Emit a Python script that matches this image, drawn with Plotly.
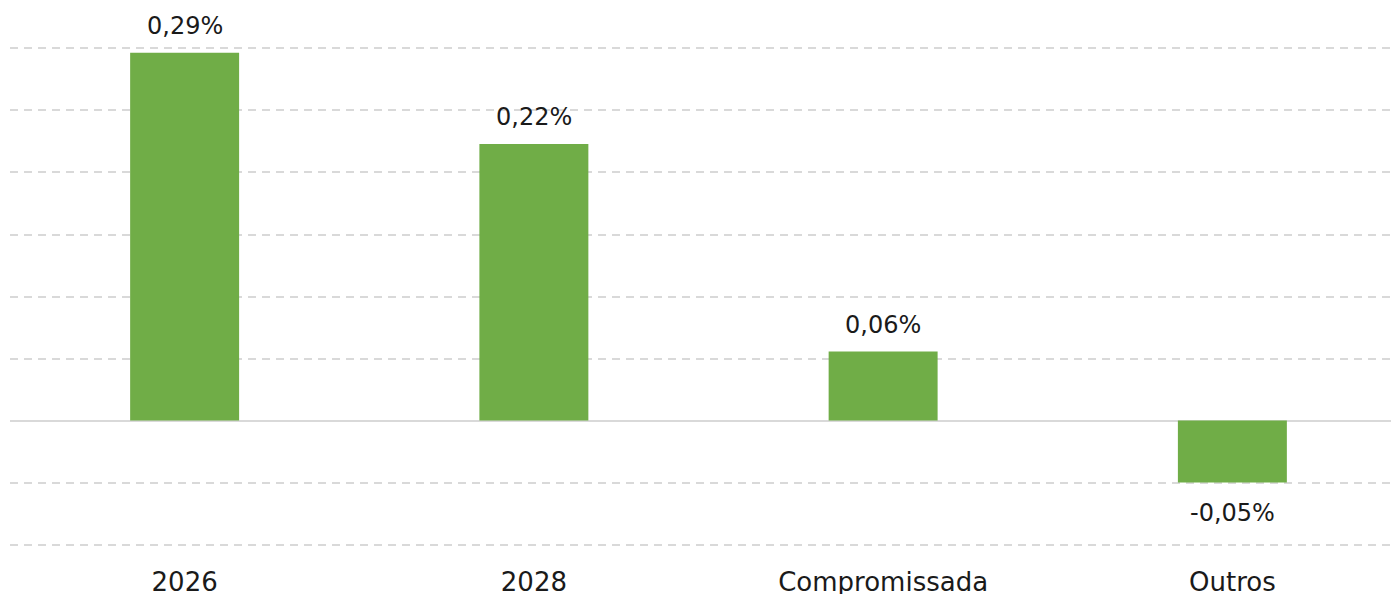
import plotly.graph_objects as go

categories = ["2026", "2028", "Compromissada", "Outros"]
values = [0.2966, 0.2230, 0.0556, -0.0500]
value_labels = ["0,29%", "0,22%", "0,06%", "-0,05%"]

bar_color = "#70AD47"
font_family = "DejaVu Sans"

fig = go.Figure()
fig.add_trace(go.Bar(
    x=categories, y=values, marker_color=bar_color, width=0.312,
    marker_line_width=0,
))

for i, (v, t) in enumerate(zip(values, value_labels)):
    fig.add_annotation(
        x=i, y=v, text=t, showarrow=False,
        yanchor="bottom" if v >= 0 else "top",
        yshift=11 if v >= 0 else -14,
        font=dict(family=font_family, size=24, color="#1a1a1a"),
    )

fig.update_layout(
    width=1399, height=594,
    margin=dict(l=2, r=0, t=38, b=55),
    paper_bgcolor="white", plot_bgcolor="white",
    showlegend=False,
    font=dict(family=font_family, size=26, color="#1a1a1a"),
)
fig.update_xaxes(
    type="category",
    range=[-0.5, 3.5], showgrid=False, zeroline=False, showline=False,
    ticks="outside", ticklen=12, tickcolor="rgba(0,0,0,0)",
    tickfont=dict(family=font_family, size=26, color="#1a1a1a"),
)
fig.update_yaxes(
    range=[-0.102, 0.302], dtick=0.05, tick0=0, showticklabels=False,
    showgrid=True, gridcolor="#d9d9d9", gridwidth=1.5, griddash="8px,6px",
    zeroline=True, zerolinecolor="#d9d9d9", zerolinewidth=2,
)

fig.write_html("out.html")
